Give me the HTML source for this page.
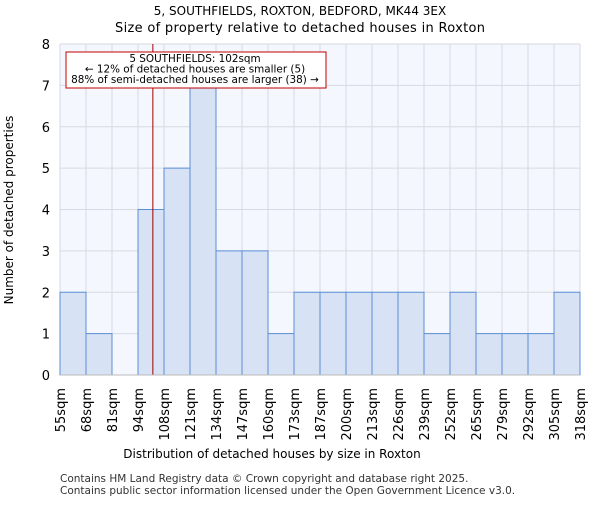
<!DOCTYPE html>
<html><head><meta charset="utf-8"><style>body{margin:0;background:#fff}svg{font-family:"DejaVu Sans","Liberation Sans",sans-serif}</style></head>
<body>
<svg id="c" width="600" height="500">
<text x="300" y="15" text-anchor="middle" font-size="12">5, SOUTHFIELDS, ROXTON, BEDFORD, MK44 3EX</text>
<text x="300" y="32" text-anchor="middle" font-size="13" textLength="370">Size of property relative to detached houses in Roxton</text>
<rect x="60" y="44" width="520" height="331" fill="#f4f7fd"/>
<g id="grid"></g><g id="bars"></g><g id="marker"></g><g id="axes"></g>
<text x="272" y="458" text-anchor="middle" font-size="12">Distribution of detached houses by size in Roxton</text>
<text transform="translate(13,210) rotate(-90)" text-anchor="middle" font-size="12">Number of detached properties</text>
<text x="60" y="482" font-size="10.5" fill="#333">Contains HM Land Registry data © Crown copyright and database right 2025.</text>
<text x="60" y="494" font-size="10.5" fill="#333">Contains public sector information licensed under the Open Government Licence v3.0.</text>
</svg>
<script>
const categories=["55sqm","68sqm","81sqm","94sqm","108sqm","121sqm","134sqm","147sqm","160sqm","173sqm","187sqm","200sqm","213sqm","226sqm","239sqm","252sqm","265sqm","279sqm","292sqm","305sqm","318sqm"];
const counts=[2,1,0,4,5,7,3,3,1,2,2,2,2,2,1,2,1,1,1,2];
const yTicks=[0,1,2,3,4,5,6,7,8];
const edges=[55,68,81,94,108,121,134,147,160,173,187,200,213,226,239,252,265,279,292,305,318];
const subjectSize=102;
const NS="http://www.w3.org/2000/svg";
const x0=60,x1=580,y0=375,y1=44;
const nb=counts.length;
const xi=i=>x0+(x1-x0)*i/nb;
const y=v=>y0-(y0-y1)*v/8;
function mk(p,t,a){const e=document.createElementNS(NS,t);for(const k in a)e.setAttribute(k,a[k]);p.appendChild(e);return e;}
const g=document.getElementById('grid'),b=document.getElementById('bars'),ax=document.getElementById('axes'),mg=document.getElementById('marker');
yTicks.forEach(v=>{const l=mk(g,'line',{x1:x0,x2:x1,y1:y(v),y2:y(v),stroke:'#d6dae2'});


const t=mk(ax,'text',{x:50,y:y(v)+5,'text-anchor':'end','font-size':13});t.textContent=v;

});
categories.forEach((c,i)=>{const l=mk(g,'line',{x1:xi(i),x2:xi(i),y1:y1,y2:y0,stroke:'#d6dae2'});


const t=mk(ax,'text',{transform:`translate(${xi(i)+5},388) rotate(-90)`,'text-anchor':'end','font-size':13});t.textContent=c;

});
counts.forEach((v,i)=>{if(v<=0)return;const r=mk(b,'rect',{x:xi(i),y:y(v),width:xi(i+1)-xi(i),height:y0-y(v),fill:'#d7e2f4',stroke:'#5b8fd6','stroke-width':1});

});
mk(ax,'line',{x1:x0,x2:x1,y1:y0,y2:y0,stroke:'#bbb'});
let k=0;while(k<edges.length-2&&edges[k+1]<=subjectSize)k++;
const sx=xi(k)+(xi(k+1)-xi(k))*(subjectSize-edges[k])/(edges[k+1]-edges[k]);
const ml=mk(mg,'line',{x1:sx,x2:sx,y1:y1,y2:y0,stroke:'#a00000','stroke-width':1});


const box=mk(ax,'rect',{x:66,y:52,width:260,height:36,fill:'#fff',stroke:'#c00000'});


["5 SOUTHFIELDS: 102sqm","← 12% of detached houses are smaller (5)","88% of semi-detached houses are larger (38) →"].forEach((s,i)=>{const t=mk(ax,'text',{x:195,y:62+i*10.5,'text-anchor':'middle','font-size':10.4});t.textContent=s;

});
</script>
</body></html>
